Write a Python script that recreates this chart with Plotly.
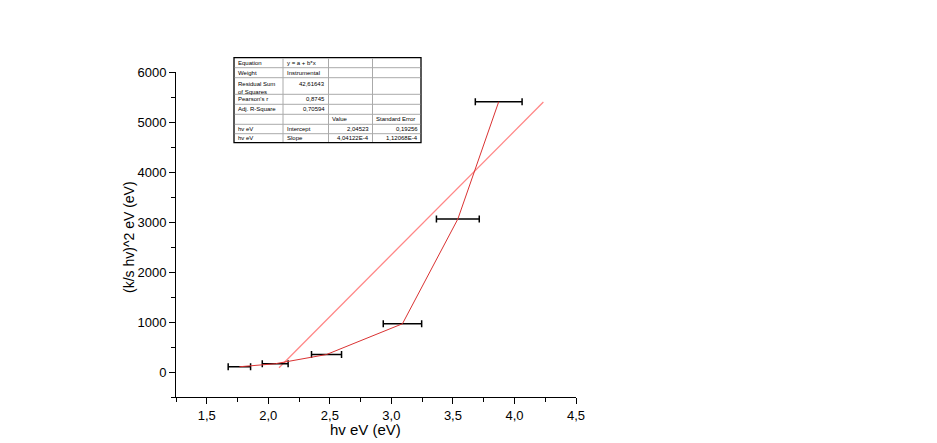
import plotly.graph_objects as go

# measured points
hv = [1.765, 2.056, 2.473, 3.09, 3.54, 3.872]
alpha = [105, 165, 350, 965, 3060, 5405]
hv_err = [0.091, 0.105, 0.122, 0.156, 0.174, 0.19]

# linear fit line
fit_hv = [2.087, 4.235]
fit_alpha = [86, 5400]

x_ticks = [1.5, 2.0, 2.5, 3.0, 3.5, 4.0, 4.5]
y_ticks = [0, 1000, 2000, 3000, 4000, 5000, 6000]

x_title = "hv eV (eV)"
y_title = "(k/s hv)^2 eV (eV)"

# fit report table
table_rows = [
    ["Equation", "y = a + b*x", "", ""],
    ["Weight", "Instrumental", "", ""],
    ["Residual Sum<br>of Squares", "42,61643", "", ""],
    ["Pearson's r", "0,8745", "", ""],
    ["Adj. R-Square", "0,70594", "", ""],
    ["", "", "Value", "Standard Error"],
    ["hv eV", "Intercept", "2,04523", "0,19256"],
    ["hv eV", "Slope", "4,04122E-4", "1,12068E-4"],
]
right_aligned = {(2, 1), (3, 1), (4, 1), (6, 2), (6, 3), (7, 2), (7, 3)}

# plot area in pixels
L, R, T, B = 176, 576, 72, 397


def fx(px):
    return (px - L) / (R - L)


def fy(py):
    return (B - py) / (B - T)


fig = go.Figure()

fig.add_trace(go.Scatter(
    x=fit_hv, y=fit_alpha, mode="lines",
    line=dict(color="rgb(255,135,135)", width=1.3),
    showlegend=False, hoverinfo="skip"
))
fig.add_trace(go.Scatter(
    x=hv, y=alpha, mode="lines",
    line=dict(color="rgb(218,50,50)", width=1),
    error_x=dict(type="data", array=hv_err, color="black", thickness=1.5, width=3.5),
    showlegend=False
))

# table drawing
col_x = [234, 283, 328.5, 372.5, 421]
row_y = [57.7, 67.7, 77.7, 94.3, 104.3, 114.3, 124.3, 133.7, 142.7]
shapes = []
grey = "rgb(170,170,170)"
shapes.append(dict(type="rect", xref="paper", yref="paper",
                   x0=fx(col_x[0]), x1=fx(col_x[-1]), y0=fy(row_y[-1]), y1=fy(row_y[0]),
                   fillcolor="white", line=dict(color="black", width=1.3), layer="above"))
for cx in col_x[1:-1]:
    shapes.append(dict(type="line", xref="paper", yref="paper",
                       x0=fx(cx), x1=fx(cx), y0=fy(row_y[-1] - 0.7), y1=fy(row_y[0] + 0.7),
                       line=dict(color=grey, width=1), layer="above"))
for ry in row_y[1:-1]:
    shapes.append(dict(type="line", xref="paper", yref="paper",
                       x0=fx(col_x[0] + 0.7), x1=fx(col_x[-1] - 0.7), y0=fy(ry), y1=fy(ry),
                       line=dict(color=grey, width=1), layer="above"))

annotations = []
for i, row in enumerate(table_rows):
    for j, txt in enumerate(row):
        if not txt:
            continue
        right = (i, j) in right_aligned
        if i == 2:
            ypos = fy(row_y[i] + 0.8)
            yanchor = "top"
        else:
            ypos = fy((row_y[i] + row_y[i + 1]) / 2)
            yanchor = "middle"
        annotations.append(dict(
            xref="paper", yref="paper",
            x=fx(col_x[j + 1] - 1.5) if right else fx(col_x[j] + 1.5),
            y=ypos, xanchor="right" if right else "left", yanchor=yanchor,
            text=txt, showarrow=False, align="left",
            font=dict(size=6, color="black", family="Liberation Sans, Arial"),
        ))

# axis titles placed like the original export
annotations.append(dict(xref="paper", yref="paper", x=fx(365), y=fy(429),
                        xanchor="center", yanchor="middle", text=x_title, showarrow=False,
                        font=dict(size=15, color="black")))
annotations.append(dict(xref="paper", yref="paper", x=fx(129), y=fy(237),
                        xanchor="center", yanchor="middle", text=y_title, showarrow=False,
                        textangle=-90, font=dict(size=14, color="black")))

fig.update_layout(
    width=937, height=443,
    margin=dict(l=L, r=937 - R, t=T, b=443 - B),
    paper_bgcolor="white", plot_bgcolor="white",
    separators=", ",
    font=dict(family="Liberation Sans, Arial", color="black"),
    shapes=shapes, annotations=annotations,
    xaxis=dict(
        range=[1.25, 4.5], tickvals=x_ticks, tickformat=".1f",
        showline=True, linecolor="black", linewidth=1, showgrid=False, zeroline=False,
        ticks="outside", ticklen=6, tickcolor="black", tickwidth=1,
        minor=dict(ticks="outside", ticklen=4, dtick=0.25, tick0=1.25, tickcolor="black"),
        tickfont=dict(size=13),
    ),
    yaxis=dict(
        range=[-500, 6000], tickvals=y_ticks, tickformat="d",
        showline=True, linecolor="black", linewidth=1, showgrid=False, zeroline=False,
        ticks="outside", ticklen=6, tickcolor="black", tickwidth=1,
        minor=dict(ticks="outside", ticklen=4, dtick=500, tick0=-500, tickcolor="black"),
        tickfont=dict(size=13),
    ),
)

fig.write_html("out.html", config={"displayModeBar": False},
               post_script="document.body.style.margin='0';")
